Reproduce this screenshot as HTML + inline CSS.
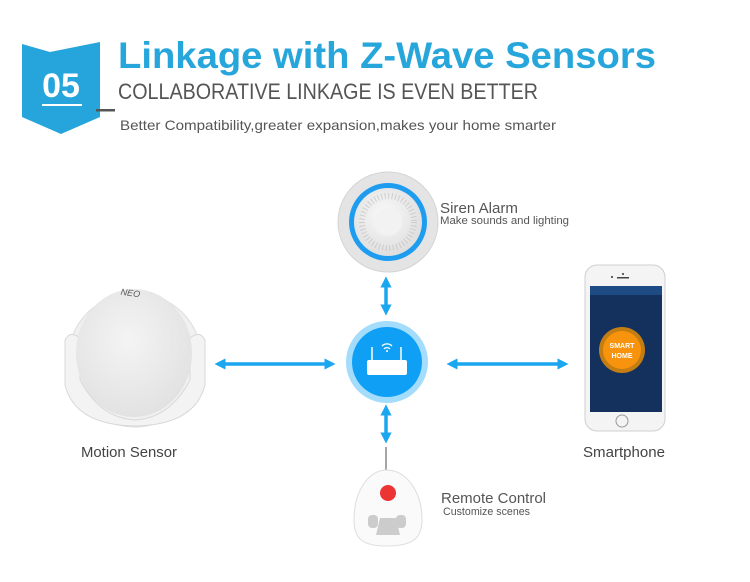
<!DOCTYPE html>
<html><head><meta charset="utf-8"><style>
body{margin:0;background:#fff;width:750px;height:577px;overflow:hidden;font-family:"Liberation Sans",sans-serif}
</style></head><body>
<svg width="750" height="577" viewBox="0 0 750 577" xmlns="http://www.w3.org/2000/svg" font-family="Liberation Sans, sans-serif">
<defs>
<radialGradient id="sg" cx="0.45" cy="0.4" r="0.6"><stop offset="0" stop-color="#fafafa"/><stop offset="1" stop-color="#dedede"/></radialGradient>
<radialGradient id="lens" cx="0.45" cy="0.4" r="0.6"><stop offset="0" stop-color="#f4f4f4"/><stop offset="1" stop-color="#e2e2e2"/></radialGradient>
<marker id="ah" viewBox="0 0 10 10" refX="5" refY="5" markerWidth="3.2" markerHeight="3.2" orient="auto-start-reverse"><path d="M0,0L10,5L0,10z" fill="#1ba6f0"/></marker>
</defs>
<!-- badge -->
<path d="M22,44 L50,52 L100,42 L100,117 L61,134 L22,117 Z" fill="#25a5dc"/>
<text x="61" y="97" text-anchor="middle" fill="#fff" font-size="34" font-weight="bold">05</text>
<rect x="42" y="104" width="40" height="2" fill="#fff"/>
<text x="118" y="68" fill="#27a6db" font-size="37" font-weight="bold" textLength="538" lengthAdjust="spacingAndGlyphs">Linkage with Z-Wave Sensors</text>
<text x="118" y="99" fill="#555" font-size="22" textLength="420" lengthAdjust="spacingAndGlyphs">COLLABORATIVE LINKAGE IS EVEN BETTER</text>
<rect x="96" y="109" width="19" height="2.5" fill="#555"/>
<text x="120" y="130" fill="#555" font-size="14" textLength="436" lengthAdjust="spacingAndGlyphs">Better Compatibility,greater expansion,makes your home smarter</text>

<!-- siren -->
<circle cx="388" cy="222" r="50" fill="#e4e4e4" stroke="#d4d4d4"/>
<circle cx="388" cy="222" r="39" fill="#1e9df0"/>
<circle cx="388" cy="222" r="34" fill="url(#sg)"/>
<circle cx="388" cy="222" r="26" fill="none" stroke="#bbb" stroke-width="6" stroke-dasharray="1 2.5" opacity="0.6"/>
<circle cx="388" cy="222" r="14" fill="#f2f2f2"/>
<text x="440" y="213" fill="#555" font-size="15" textLength="78" lengthAdjust="spacingAndGlyphs">Siren Alarm</text>
<text x="440" y="224" fill="#555" font-size="11" textLength="129" lengthAdjust="spacingAndGlyphs">Make sounds and lighting</text>

<!-- arrows -->
<g stroke="#1ba6f0" stroke-width="3.5" marker-start="url(#ah)" marker-end="url(#ah)">
<line x1="386" y1="282" x2="386" y2="310"/>
<line x1="386" y1="410" x2="386" y2="438"/>
<line x1="220" y1="364" x2="330" y2="364"/>
<line x1="452" y1="364" x2="563" y2="364"/>
</g>

<!-- hub -->
<circle cx="387" cy="362" r="41" fill="#a4dcfb"/>
<circle cx="387" cy="362" r="35" fill="#0fa0f5"/>
<rect x="367" y="360" width="40" height="15" rx="2" fill="#fff"/>
<line x1="372" y1="360" x2="372" y2="347" stroke="#fff" stroke-width="1.5"/>
<line x1="401" y1="360" x2="401" y2="347" stroke="#fff" stroke-width="1.5"/>
<path d="M382,346 a7,7 0 0 1 10,0 M384,349 a4,4 0 0 1 6,0" stroke="#fff" stroke-width="1.3" fill="none"/>
<circle cx="387" cy="351" r="1" fill="#fff"/>

<!-- motion sensor -->
<circle cx="135" cy="360" r="67" fill="#f0f0f0" stroke="#ddd"/>
<path d="M65,340 Q70,330 80,338 L80,380 Q100,418 135,420 Q170,418 190,380 L190,338 Q200,330 205,340 L205,385 Q195,425 135,426 Q75,425 65,385 Z" fill="#f3f3f3" stroke="#d8d8d8"/>
<ellipse cx="134" cy="353" rx="58" ry="64" fill="url(#lens)"/>
<text x="130" y="296" fill="#555" font-size="9" font-style="italic" text-anchor="middle" transform="rotate(8 130 296)">NEO</text>
<text x="81" y="457" fill="#444" font-size="14.5" textLength="96" lengthAdjust="spacingAndGlyphs">Motion Sensor</text>

<!-- phone -->
<rect x="585" y="265" width="80" height="166" rx="12" fill="#f4f4f4" stroke="#cfcfcf"/>
<rect x="590" y="286" width="72" height="126" fill="#14315e"/>
<rect x="590" y="286" width="72" height="9" fill="#1f4b85"/>
<circle cx="623" cy="274" r="1" fill="#333"/>
<rect x="617" y="277" width="12" height="1.5" fill="#444"/>
<circle cx="612" cy="277" r="1" fill="#333"/>
<circle cx="622" cy="421" r="6" fill="none" stroke="#999"/>
<circle cx="622" cy="350" r="23" fill="#c47d12"/>
<circle cx="622" cy="350" r="19" fill="#f7930d"/>
<text x="622" y="348" text-anchor="middle" fill="#fff" font-size="7" font-weight="bold">SMART</text>
<text x="622" y="358" text-anchor="middle" fill="#fff" font-size="7" font-weight="bold">HOME</text>
<text x="583" y="457" fill="#444" font-size="14.5" textLength="82" lengthAdjust="spacingAndGlyphs">Smartphone</text>

<!-- remote -->
<path d="M386,447 L386,470" stroke="#888" stroke-width="1.5"/>
<path d="M387,470 C405,470 422,490 422,520 C422,540 410,546 387,546 C364,546 354,540 354,520 C354,490 369,470 387,470 Z" fill="#fafafa" stroke="#ddd"/>
<circle cx="388" cy="493" r="8" fill="#ec3434"/>
<rect x="368" y="515" width="10" height="13" rx="4" fill="#ccc"/>
<rect x="396" y="515" width="10" height="13" rx="4" fill="#ccc"/>
<path d="M380,518 L396,518 L400,535 L376,535 Z" fill="#ccc"/>
<text x="441" y="503" fill="#555" font-size="15" textLength="105" lengthAdjust="spacingAndGlyphs">Remote Control</text>
<text x="443" y="515" fill="#555" font-size="11" textLength="87" lengthAdjust="spacingAndGlyphs">Customize scenes</text>
</svg>
</body></html>
